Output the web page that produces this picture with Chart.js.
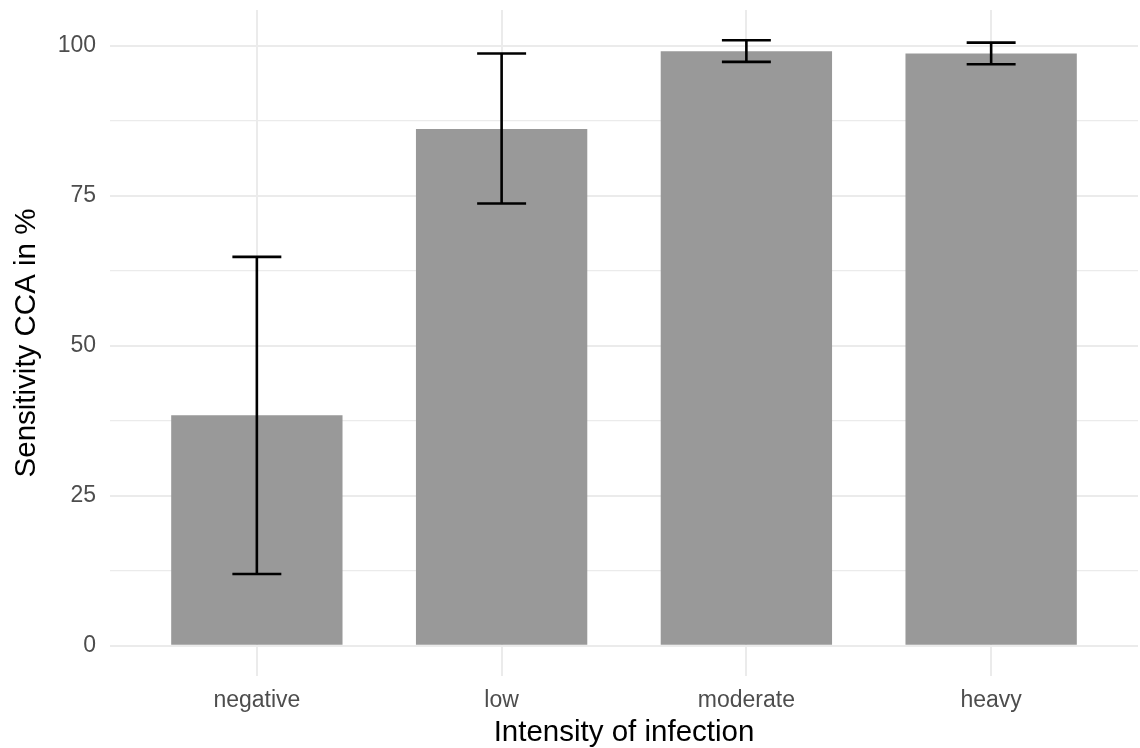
<!DOCTYPE html>
<html>
<head>
<meta charset="utf-8">
<script src="https://cdn.jsdelivr.net/npm/chart.js@4.4.1/dist/chart.umd.min.js"></script>
<style>
  html, body { margin: 0; padding: 0; background: #ffffff; }
  #wrap { width: 1140px; height: 748px; position: relative; }
</style>
</head>
<body>
<div id="wrap"><canvas id="c" width="1140" height="748"></canvas></div>
<script>
// ---- data ----
const categories = ["negative", "low", "moderate", "heavy"];
const positions = [1, 2, 3, 4];
const sensitivity = [38.4, 86.1, 99.05, 98.7];
const ciLower = [11.95, 73.7, 97.3, 96.9];
const ciUpper = [64.8, 98.7, 100.9, 100.5];
const yMajorTicks = [0, 25, 50, 75, 100];
const yMinorTicks = [12.5, 37.5, 62.5, 87.5];

const FONT = "'Liberation Sans', Arial, Helvetica, sans-serif";
const GRID = "#EBEBEB";

const errorBars = {
  id: 'errorBars',
  afterDatasetsDraw(chart) {
    const { ctx, scales: { x, y } } = chart;
    ctx.save();
    ctx.strokeStyle = '#000000';
    ctx.lineWidth = 2.6;
    ctx.lineCap = 'butt';
    for (let i = 0; i < positions.length; i++) {
      const px = x.getPixelForValue(positions[i]);
      const half = x.getPixelForValue(positions[i] + 0.1) - px;
      const yl = y.getPixelForValue(ciLower[i]);
      const yh = y.getPixelForValue(ciUpper[i]);
      ctx.beginPath();
      ctx.moveTo(px, yl); ctx.lineTo(px, yh);
      ctx.moveTo(px - half, yl); ctx.lineTo(px + half, yl);
      ctx.moveTo(px - half, yh); ctx.lineTo(px + half, yh);
      ctx.stroke();
    }
    ctx.restore();
  }
};

new Chart(document.getElementById('c'), {
  type: 'bar',
  data: {
    datasets: [{
      data: positions.map((p, i) => ({ x: p, y: sensitivity[i] })),
      backgroundColor: '#999999',
      borderWidth: 0,
      barPercentage: 0.7,
      categoryPercentage: 1.0
    }]
  },
  plugins: [errorBars],
  options: {
    responsive: false,
    animation: false,
    events: [],
    layout: { padding: { left: 0, right: 2, top: 10, bottom: 0 } },
    plugins: { legend: { display: false }, tooltip: { enabled: false } },
    scales: {
      x: {
        type: 'linear',
        min: 0.4,
        max: 4.6,
        offset: false,
        afterBuildTicks(scale) { scale.ticks = positions.map(v => ({ value: v })); },
        afterFit(scale) { scale.height = 72; scale.paddingLeft = 0; scale.paddingRight = 0; },
        border: { display: false },
        grid: { color: GRID, lineWidth: 2, drawTicks: false, offset: false },
        ticks: {
          autoSkip: false,
          maxRotation: 0,
          padding: 11,
          color: '#4D4D4D',
          font: { family: FONT, size: 23 },
          callback(v) { const i = positions.indexOf(v); return i >= 0 ? categories[i] : ''; }
        },
        title: {
          display: true,
          text: 'Intensity of infection',
          color: '#000000',
          font: { family: FONT, size: 29.5, lineHeight: 1.0 },
          padding: { top: 0, bottom: 0 }
        }
      },
      y: {
        type: 'linear',
        min: -5.04,
        max: 105.94,
        afterBuildTicks(scale) {
          scale.ticks = yMajorTicks.concat(yMinorTicks).sort((a, b) => a - b).map(v => ({ value: v }));
        },
        afterFit(scale) { scale.width = 110; scale.paddingTop = 0; scale.paddingBottom = 0; },
        border: { display: false },
        grid: {
          color: GRID,
          drawTicks: false,
          lineWidth(ctx) { return yMajorTicks.includes(ctx.tick.value) ? 2 : 1.2; }
        },
        ticks: {
          autoSkip: false,
          padding: 14,
          color: '#4D4D4D',
          font: { family: FONT, size: 23 },
          callback(v) { return yMajorTicks.includes(v) ? String(v) : ''; }
        },
        title: {
          display: true,
          text: 'Sensitivity CCA in %',
          color: '#000000',
          font: { family: FONT, size: 29.5, lineHeight: 1.0 },
          padding: { top: 12, bottom: 0 }
        }
      }
    }
  }
});
</script>
</body>
</html>
